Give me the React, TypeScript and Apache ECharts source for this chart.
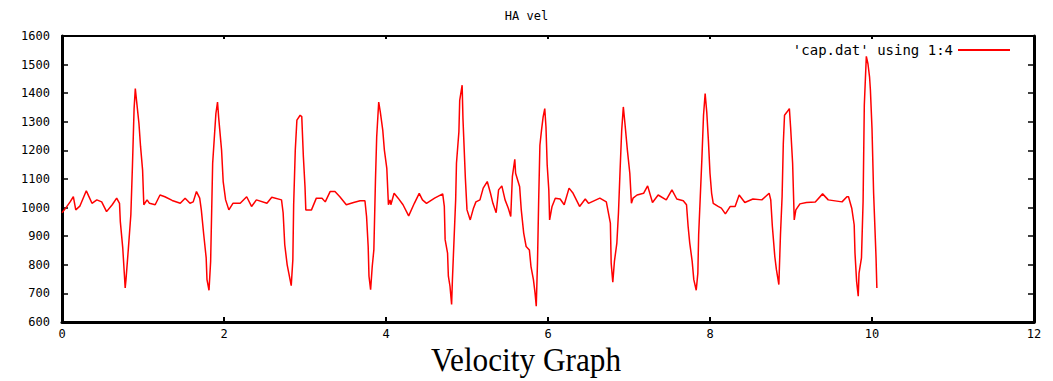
import React, { useEffect, useRef } from "react";
import * as echarts from "echarts";

const chartTitle = "HA vel";
const seriesName = "'cap.dat' using 1:4";
const caption = "Velocity Graph";

const time = [
  0.0, 0.05, 0.1, 0.14, 0.17, 0.22, 0.3, 0.33, 0.37, 0.43, 0.49, 0.55, 0.62, 0.675, 0.71, 0.72, 0.75, 0.77, 0.78, 0.79,
  0.82, 0.85, 0.87, 0.89, 0.905, 0.92, 0.95, 0.97, 0.995, 1.01, 1.05, 1.08, 1.15, 1.21, 1.27, 1.36, 1.46, 1.52, 1.58, 1.62,
  1.66, 1.7, 1.72, 1.75, 1.78, 1.79, 1.815, 1.835, 1.86, 1.88, 1.9, 1.92, 1.935, 1.97, 1.99, 2.02, 2.06, 2.11, 2.2, 2.28,
  2.34, 2.4, 2.53, 2.59, 2.71, 2.73, 2.75, 2.78, 2.8, 2.83, 2.85, 2.86, 2.88, 2.9, 2.94, 2.96, 2.98, 3.0, 3.01, 3.04,
  3.08, 3.14, 3.21, 3.25, 3.31, 3.37, 3.43, 3.51, 3.6, 3.68, 3.74, 3.76, 3.78, 3.79, 3.81, 3.83, 3.85, 3.87, 3.885, 3.91,
  3.93, 3.96, 3.98, 4.01, 4.03, 4.05, 4.06, 4.1, 4.15, 4.21, 4.28, 4.35, 4.41, 4.45, 4.5, 4.6, 4.7, 4.72, 4.73, 4.76,
  4.77, 4.79, 4.81, 4.82, 4.84, 4.86, 4.87, 4.9, 4.91, 4.94, 4.95, 4.98, 5.0, 5.04, 5.08, 5.11, 5.16, 5.2, 5.25, 5.29,
  5.32, 5.36, 5.39, 5.43, 5.47, 5.51, 5.54, 5.56, 5.59, 5.6, 5.65, 5.67, 5.7, 5.73, 5.77, 5.79, 5.82, 5.84, 5.855, 5.87,
  5.885, 5.9, 5.92, 5.94, 5.96, 5.975, 5.99, 6.01, 6.02, 6.05, 6.09, 6.15, 6.2, 6.26, 6.31, 6.39, 6.46, 6.5, 6.64, 6.72,
  6.77, 6.78, 6.8, 6.82, 6.85, 6.87, 6.89, 6.91, 6.93, 6.95, 6.98, 7.01, 7.03, 7.05, 7.1, 7.18, 7.23, 7.29, 7.36, 7.46,
  7.53, 7.59, 7.67, 7.71, 7.73, 7.75, 7.78, 7.8, 7.83, 7.85, 7.86, 7.88, 7.9, 7.92, 7.94, 7.96, 7.98, 8.0, 8.02, 8.04,
  8.1, 8.14, 8.19, 8.25, 8.31, 8.36, 8.43, 8.53, 8.64, 8.73, 8.75, 8.77, 8.8, 8.82, 8.85, 8.87, 8.89, 8.905, 8.92, 8.95,
  8.98, 8.995, 9.02, 9.04, 9.06, 9.11, 9.19, 9.3, 9.39, 9.46, 9.63, 9.69, 9.71, 9.75, 9.78, 9.79, 9.81, 9.83, 9.84, 9.87,
  9.89, 9.905, 9.93, 9.95, 9.97, 9.98, 10.0, 10.02, 10.05, 10.06,
];

const velocity = [
  982, 1000, 1020, 1038, 992, 1005, 1059, 1040, 1015, 1027, 1020, 986, 1010, 1033, 1015, 951, 859, 766, 719, 748,
  859, 975, 1149, 1346, 1416, 1375, 1294, 1213, 1131, 1010, 1027, 1015, 1010, 1044, 1038, 1025, 1015, 1033, 1015, 1020,
  1056, 1033, 992, 905, 824, 748, 711, 812, 1155, 1242, 1329, 1369, 1312, 1201, 1091, 1027, 992, 1015, 1015, 1038,
  1004, 1027, 1015, 1036, 1027, 982, 870, 800, 771, 727, 818, 1010, 1201, 1306, 1323, 1318, 1178, 1073, 992, 992,
  992, 1033, 1033, 1020, 1056, 1056, 1038, 1010, 1018, 1024, 1024, 969, 864, 760, 713, 794, 852, 1097, 1247, 1369,
  1334, 1271, 1201, 1137, 1010, 1027, 1010, 1050, 1033, 1010, 971, 1015, 1050, 1027, 1015, 1033, 1048, 1004, 888, 841,
  760, 725, 661, 748, 888, 1027, 1155, 1265, 1375, 1428, 1312, 1102, 992, 957, 998, 1020, 1027, 1068, 1091, 1050,
  1015, 982, 1062, 1076, 1027, 998, 969, 1108, 1169, 1120, 1073, 992, 911, 864, 852, 794, 748, 702, 655, 806,
  1027, 1218, 1271, 1317, 1346, 1282, 1149, 1062, 957, 1004, 1033, 1030, 1010, 1068, 1050, 1004, 1030, 1015, 1033, 1020,
  946, 806, 739, 812, 876, 982, 1131, 1271, 1352, 1294, 1201, 1120, 1015, 1033, 1044, 1050, 1076, 1018, 1044, 1027,
  1062, 1030, 1024, 1010, 934, 876, 812, 748, 711, 771, 905, 1038, 1172, 1323, 1399, 1334, 1236, 1120, 1050, 1015,
  1004, 998, 978, 1004, 1004, 1044, 1018, 1030, 1027, 1050, 1027, 934, 829, 783, 731, 905, 1038, 1224, 1323, 1334,
  1346, 1282, 1155, 957, 992, 1013, 1018, 1020, 1048, 1027, 1020, 1038, 1038, 998, 940, 841, 742, 690, 771, 824,
  1021, 1358, 1529, 1503, 1456, 1413, 1277, 1050, 824, 719,
];

const xMin = 0;
const xMax = 12;
const xStep = 2;
const yMin = 600;
const yMax = 1600;
const yStep = 100;

const mono = "DejaVu Sans Mono";

export default function App() {
  const ref = useRef<HTMLDivElement>(null);

  useEffect(() => {
    document.body.style.margin = "0";
    if (!ref.current) return;
    const chart = echarts.init(ref.current, null, { renderer: "svg" });
    const data = time.map((t, i) => [t, velocity[i]]);
    chart.setOption({
      animation: false,
      backgroundColor: "#ffffff",
      title: {
        text: chartTitle,
        left: "center",
        top: 5,
        textStyle: { fontFamily: mono, fontSize: 12, fontWeight: "normal", color: "#000" },
      },
      legend: {
        right: 38,
        top: 38,
        align: "right",
        itemWidth: 52,
        itemHeight: 2,
        data: [{ name: seriesName, icon: "rect" }],
        textStyle: { fontFamily: mono, fontSize: 14, color: "#000" },
      },
      grid: { left: 62, right: 19, top: 36, bottom: 59 },
      xAxis: [
        {
          type: "value",
          position: "bottom",
          min: xMin,
          max: xMax,
          interval: xStep,
          axisLine: { show: true, onZero: false, lineStyle: { color: "#000", width: 3 } },
          axisTick: { show: true, inside: true, length: 5, lineStyle: { color: "#000", width: 2 } },
          axisLabel: { color: "#000", fontFamily: mono, fontSize: 12, margin: 6 },
          splitLine: { show: false },
        },
        {
          type: "value",
          position: "top",
          min: xMin,
          max: xMax,
          interval: xStep,
          axisLine: { show: true, onZero: false, lineStyle: { color: "#000", width: 2 } },
          axisTick: { show: true, inside: true, length: 3, lineStyle: { color: "#000", width: 2 } },
          axisLabel: { show: false },
          splitLine: { show: false },
        },
      ],
      yAxis: [
        {
          type: "value",
          position: "left",
          min: yMin,
          max: yMax,
          interval: yStep,
          axisLine: { show: true, onZero: false, lineStyle: { color: "#000", width: 3 } },
          axisTick: { show: true, inside: true, length: 6, lineStyle: { color: "#000", width: 1.5 } },
          axisLabel: {
            color: "#000",
            fontFamily: mono,
            fontSize: 12,
            margin: 12,
            formatter: (v: number) => String(v),
          },
          splitLine: { show: false },
        },
        {
          type: "value",
          position: "right",
          min: yMin,
          max: yMax,
          interval: yStep,
          axisLine: { show: true, onZero: false, lineStyle: { color: "#000", width: 3 } },
          axisTick: { show: true, inside: true, length: 6, lineStyle: { color: "#000", width: 1.5 } },
          axisLabel: { show: false },
          splitLine: { show: false },
        },
      ],
      series: [
        {
          name: seriesName,
          type: "line",
          xAxisIndex: 0,
          yAxisIndex: 0,
          data,
          showSymbol: false,
          symbol: "none",
          lineStyle: { color: "#ff0000", width: 1.5 },
          itemStyle: { color: "#ff0000" },
        },
      ],
      graphic: [
        {
          type: "text",
          x: 526,
          y: 360,
          scaleX: 0.92,
          style: {
            text: caption,
            fontFamily: "Liberation Serif",
            fontSize: 34,
            fill: "#000",
            align: "center",
            verticalAlign: "middle",
          },
        },
      ],
    });
    return () => chart.dispose();
  }, []);

  return <div ref={ref} style={{ width: 1053, height: 381 }} />;
}
